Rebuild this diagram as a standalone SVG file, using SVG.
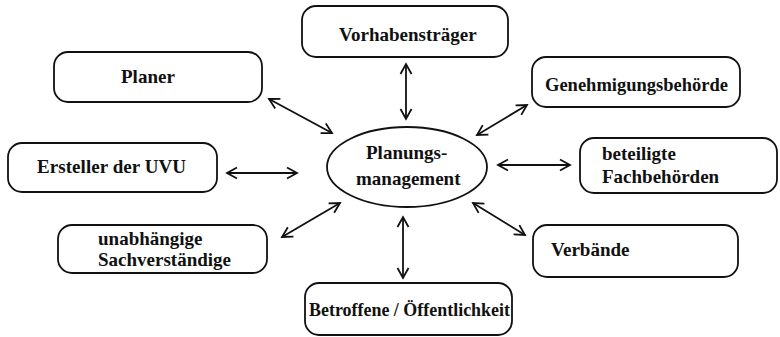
<svg xmlns="http://www.w3.org/2000/svg" width="780" height="337" viewBox="0 0 780 337">
<style>
.box{fill:#fff;stroke:#111;stroke-width:1.8}
.t{font-family:"Liberation Serif","Times New Roman",serif;font-weight:bold;font-size:19px;fill:#111}
.c{stroke:#111;stroke-width:1.8;fill:none;marker-start:url(#ah);marker-end:url(#ah)}
</style>
<defs>
<marker id="ah" markerUnits="userSpaceOnUse" markerWidth="14" markerHeight="14" viewBox="-12 -7 14 14" refX="0" refY="0" orient="auto-start-reverse">
<path d="M-10,-5.5 L0,0 L-10,5.5" fill="none" stroke="#111" stroke-width="1.8"/>
</marker>
</defs>
<rect width="780" height="337" fill="#fff"/>
<g id="connectors">
<line class="c" x1="406" y1="64" x2="406" y2="119"/>
<line class="c" x1="269" y1="99" x2="332" y2="133"/>
<line class="c" x1="227" y1="173" x2="297" y2="173"/>
<line class="c" x1="527" y1="105" x2="477" y2="135"/>
<line class="c" x1="498" y1="165" x2="570" y2="165"/>
<line class="c" x1="282" y1="237" x2="340" y2="203"/>
<line class="c" x1="473" y1="203" x2="525" y2="235"/>
<line class="c" x1="403" y1="217" x2="403" y2="278"/>
</g>
<g id="planungsmanagement">
<ellipse class="box" cx="407" cy="167" rx="80" ry="40"/>
<text class="t" x="366" y="159">Planungs-</text>
<text class="t" x="356" y="185">management</text>
</g>
<g id="vorhabenstraeger">
<rect class="box" x="302" y="6" width="206" height="51" rx="14"/>
<text class="t" x="339" y="41">Vorhabensträger</text>
</g>
<g id="planer">
<rect class="box" x="54" y="52" width="208" height="50" rx="14"/>
<text class="t" x="121" y="83">Planer</text>
</g>
<g id="genehmigungsbehoerde">
<rect class="box" x="532" y="57" width="208" height="50" rx="14"/>
<text class="t" x="545" y="91" textLength="183" lengthAdjust="spacingAndGlyphs">Genehmigungsbehörde</text>
</g>
<g id="ersteller">
<rect class="box" x="8" y="143" width="209" height="49" rx="14"/>
<text class="t" x="37" y="173" textLength="149" lengthAdjust="spacing">Ersteller der UVU</text>
</g>
<g id="fachbehoerden">
<rect class="box" x="580" y="138" width="197" height="55" rx="14"/>
<text class="t" x="602" y="160">beteiligte</text>
<text class="t" x="602" y="183">Fachbehörden</text>
</g>
<g id="sachverstaendige">
<rect class="box" x="58" y="225" width="209" height="48" rx="14"/>
<text class="t" x="98" y="245">unabhängige</text>
<text class="t" x="98" y="266">Sachverständige</text>
</g>
<g id="verbaende">
<rect class="box" x="533" y="225" width="205" height="52" rx="14"/>
<text class="t" x="551" y="256">Verbände</text>
</g>
<g id="betroffene">
<rect class="box" x="305" y="283" width="207" height="52" rx="14"/>
<text class="t" x="309" y="316" textLength="201" lengthAdjust="spacingAndGlyphs">Betroffene / Öffentlichkeit</text>
</g>
</svg>
